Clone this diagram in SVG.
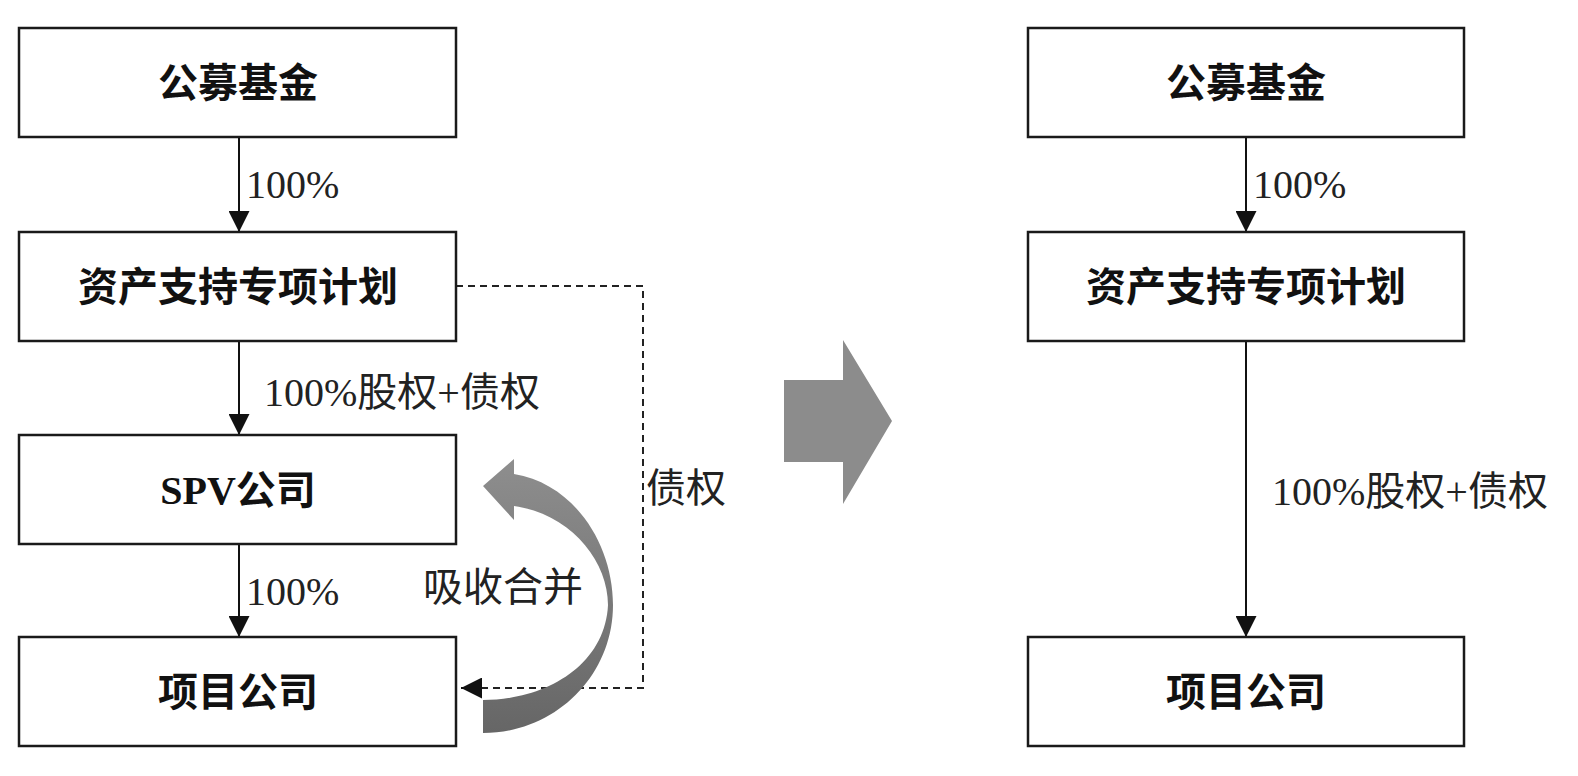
<svg xmlns="http://www.w3.org/2000/svg" width="1578" height="776" viewBox="0 0 1578 776">
<style>
.box{fill:#fff;stroke:#1a1a1a;stroke-width:2.5}
.bt{font-family:"Liberation Serif","Noto Sans CJK SC",serif;font-size:40px;font-weight:bold;fill:#111;text-anchor:middle;dominant-baseline:central}
.lb{font-family:"Liberation Serif","Noto Sans CJK SC",serif;font-size:40px;fill:#222}
.ln{fill:none;stroke:#111;stroke-width:2}
.dash{fill:none;stroke:#222;stroke-width:2;stroke-dasharray:7 5}
</style>
<defs>
<marker id="ah" viewBox="0 0 20 20" refX="20" refY="10" markerWidth="21" markerHeight="21" markerUnits="userSpaceOnUse" orient="auto">
<path d="M0,0 L20,10 L0,20 Z" fill="#111"/>
</marker>
<linearGradient id="cg" x1="0" y1="0" x2="0" y2="1">
<stop offset="0" stop-color="#8e8e8e"/>
<stop offset="1" stop-color="#666"/>
</linearGradient>
</defs>

<g id="connectors">
<line class="ln" x1="239" y1="137" x2="239" y2="232" marker-end="url(#ah)"/>
<line class="ln" x1="239" y1="341" x2="239" y2="435" marker-end="url(#ah)"/>
<line class="ln" x1="239" y1="544" x2="239" y2="637" marker-end="url(#ah)"/>
<polyline class="dash" points="456,286 643,286 643,688 464,688"/>
<path d="M481,688 L461,688" fill="none" stroke="#111" stroke-width="2" marker-end="url(#ah)"/>
<line class="ln" x1="1246" y1="137" x2="1246" y2="232" marker-end="url(#ah)"/>
<line class="ln" x1="1246" y1="341" x2="1246" y2="637" marker-end="url(#ah)"/>
<text class="lb" x="246" y="198">100%</text>
<text class="lb" x="264" y="406">100%股权+债权</text>
<text class="lb" x="246" y="605">100%</text>
<text class="lb" x="646" y="502">债权</text>
<text class="lb" x="423" y="601">吸收合并</text>
<text class="lb" x="1253" y="198">100%</text>
<text class="lb" x="1272" y="505">100%股权+债权</text>
</g>

<g id="merge-arrow">
<path d="M483,486 L514,459 L514,474 C575,484 613,545 613,605 C613,676 555,733 483,733 L483,700 C545,700 605,666 608,605 C608,560 570,514 514,506 L514,520 Z" fill="url(#cg)"/>
</g>

<g id="transition-arrow">
<path d="M784,380 L843,380 L843,340 L892,421 L843,504 L843,462 L784,462 Z" fill="#8c8c8c"/>
</g>

<g id="l-fund"><rect class="box" x="19" y="28" width="437" height="109"/><text class="bt" x="238" y="83">公募基金</text></g>
<g id="l-plan"><rect class="box" x="19" y="232" width="437" height="109"/><text class="bt" x="238" y="287">资产支持专项计划</text></g>
<g id="l-spv"><rect class="box" x="19" y="435" width="437" height="109"/><text class="bt" x="238" y="490">SPV公司</text></g>
<g id="l-proj"><rect class="box" x="19" y="637" width="437" height="109"/><text class="bt" x="238" y="692">项目公司</text></g>

<g id="r-fund"><rect class="box" x="1028" y="28" width="436" height="109"/><text class="bt" x="1246" y="83">公募基金</text></g>
<g id="r-plan"><rect class="box" x="1028" y="232" width="436" height="109"/><text class="bt" x="1246" y="287">资产支持专项计划</text></g>
<g id="r-proj"><rect class="box" x="1028" y="637" width="436" height="109"/><text class="bt" x="1246" y="692">项目公司</text></g>
</svg>
